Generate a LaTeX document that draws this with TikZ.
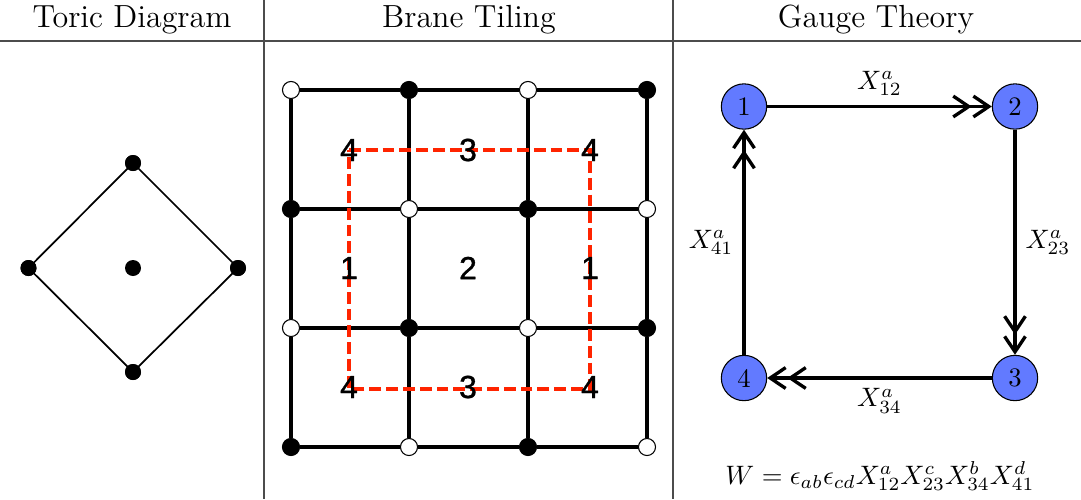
\documentclass[tikz,border=0pt]{standalone}
\usepackage{fontspec}
\newfontfamily\arialfont[FakeBold=1]{Liberation Sans}
\usetikzlibrary{arrows.meta}
\definecolor{nodeblue}{RGB}{98,122,255}
\definecolor{tilered}{RGB}{255,36,0}
\begin{document}
\begin{tikzpicture}[x=0.375pt,y=-0.375pt,
  rulev/.style={draw=black!70, line width=0.6pt},
  ruleh/.style={draw=black!70, line width=0.8pt},
  title/.style={font=\large, anchor=base, inner sep=0pt},
  tdot/.style={circle, fill=black, inner sep=0pt, minimum size=6pt},
  tedge/.style={line width=0.65pt},
  bb/.style={circle, draw=black, fill=black, line width=0.4pt, inner sep=0pt, minimum size=6.4pt},
  bw/.style={bb, fill=white},
  tile/.style={line width=1.85pt},
  redbox/.style={draw=tilered, line width=1.35pt, dash pattern=on 4.4pt off 1.9pt},
  face/.style={font=\arialfont\fontsize{12}{14}\selectfont, inner sep=0pt},
  gnode/.style={circle, draw=black, fill=nodeblue, line width=0.4pt, minimum size=17pt, inner sep=0pt},
  garrow/.style={line width=1.25pt, -{Straight Barb[length=5.8pt,width=7.8pt,sep=0pt]Straight Barb[length=5.8pt,width=7.8pt]}}
]
\useasboundingbox (0,0) rectangle (1081,499);
% table rules
\coordinate (hl) at (0,41);
\coordinate (hr) at (1081,41);
\coordinate (v1t) at (264,0);
\coordinate (v1b) at (264,499);
\coordinate (v2t) at (673,0);
\coordinate (v2b) at (673,499);
\draw[ruleh] (hl) -- (hr);
\draw[rulev] (v1t) -- (v1b);
\draw[rulev] (v2t) -- (v2b);
\node[title] (t1) at (132,27) {Toric Diagram};
\node[title] (t2) at (469,27) {Brane Tiling};
\node[title] (t3) at (876,27) {Gauge Theory};
% toric diagram
\node[tdot] (pt) at (133,163) {};
\node[tdot] (pl) at (28.5,268) {};
\node[tdot] (pr) at (238,268) {};
\node[tdot] (pb) at (133,372) {};
\node[tdot] (pc) at (133,268) {};
\draw[tedge] (pt.center) -- (pr.center) -- (pb.center) -- (pl.center) -- (pt.center);
\node[tdot] at (pt) {};
\node[tdot] at (pl) {};
\node[tdot] at (pr) {};
\node[tdot] at (pb) {};
% brane tiling
\node[bw] (b11) at (291,90) {};
\node[bb] (b12) at (409,90) {};
\node[bw] (b13) at (528,90) {};
\node[bb] (b14) at (647,90) {};
\node[bb] (b21) at (291,209) {};
\node[bw] (b22) at (409,209) {};
\node[bb] (b23) at (528,209) {};
\node[bw] (b24) at (647,209) {};
\node[bw] (b31) at (291,328) {};
\node[bb] (b32) at (409,328) {};
\node[bw] (b33) at (528,328) {};
\node[bb] (b34) at (647,328) {};
\node[bb] (b41) at (291,447) {};
\node[bw] (b42) at (409,447) {};
\node[bb] (b43) at (528,447) {};
\node[bw] (b44) at (647,447) {};
\foreach \r in {1,2,3,4}{
  \draw[tile] (b\r1) -- (b\r2) -- (b\r3) -- (b\r4);
  \draw[tile] (b1\r) -- (b2\r) -- (b3\r) -- (b4\r);
}
\coordinate (ra) at (349,150);
\coordinate (rb) at (590,150);
\coordinate (rc) at (590,389);
\coordinate (rd) at (349,389);
\draw[redbox] (ra) -- (rb) -- (rc) -- (rd) -- cycle;
\node[face] (f1) at (349,150) {4};
\node[face] (f2) at (468,150) {3};
\node[face] (f3) at (590,150) {4};
\node[face] (f4) at (349,268) {1};
\node[face] (f5) at (468,268) {2};
\node[face] (f6) at (590,268) {1};
\node[face] (f7) at (349,387) {4};
\node[face] (f8) at (468,387) {3};
\node[face] (f9) at (590,387) {4};
% gauge theory
\node[gnode] (g1) at (744,106.5) {1};
\node[gnode] (g2) at (1015,106.5) {2};
\node[gnode] (g3) at (1015,378) {3};
\node[gnode] (g4) at (744,378) {4};
\draw[garrow] (g1) -- node[above] (l12) {$X^a_{12}$} (g2);
\draw[garrow] (g2) -- node[right] (l23) {$X^a_{23}$} (g3);
\draw[garrow] (g3) -- node[below] (l34) {$X^a_{34}$} (g4);
\draw[garrow] (g4) -- node[left] (l41) {$X^a_{41}$} (g1);
\node (w) at (880,476) {$W=\epsilon_{ab}\epsilon_{cd}X^a_{12}X^c_{23}X^b_{34}X^d_{41}$};
\end{tikzpicture}
\end{document}
